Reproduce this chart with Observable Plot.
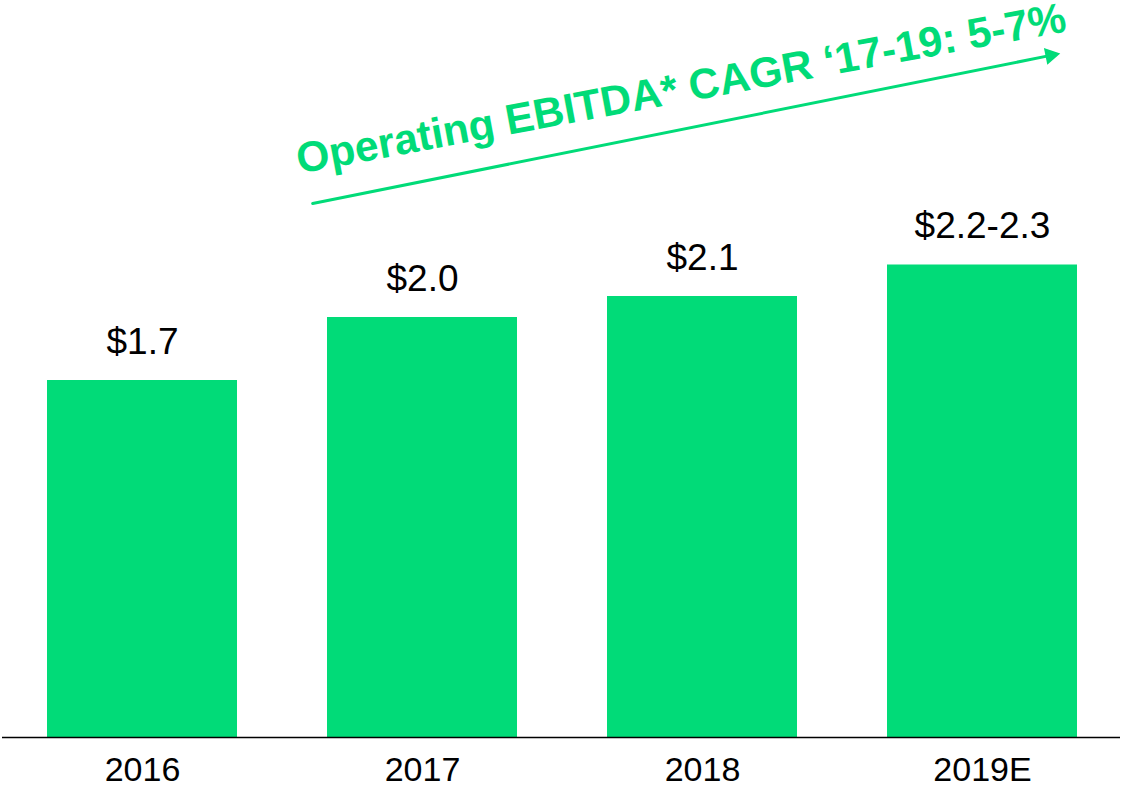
<!DOCTYPE html>
<html>
<head>
<meta charset="utf-8">
<script src="https://cdn.jsdelivr.net/npm/d3@7"></script>
<script src="https://cdn.jsdelivr.net/npm/@observablehq/plot@0.6"></script>
<style>
  html, body { margin: 0; padding: 0; background: #ffffff; }
  #chart svg { display: block; }
</style>
</head>
<body>
<div id="chart"></div>
<script>
// ---- data ----
const years = ["2016", "2017", "2018", "2019E"];
const values = [1.7, 2.0, 2.1, 2.25];
const valueLabels = ["$1.7", "$2.0", "$2.1", "$2.2-2.3"];

// growth annotation (text + arrow), anchored in data terms
const cagrText = "Operating EBITDA* CAGR \u201817-19: 5-7%";
const cagrTextAt = {x: "2018", y: 3.025};
const arrowFrom = {x: "2017", y: 2.648};
const arrowTo = {x: "2019E", y: 3.183};
const arrowHeadAt = {x: "2019E", y: 3.248};

const green = "#01DB78";

const rows = years.map((year, i) => ({year, value: values[i], label: valueLabels[i]}));

const chart = Plot.plot({
  width: 1122,
  height: 788,
  marginTop: 2,
  marginBottom: 51,
  marginLeft: 2,
  marginRight: 0,
  style: {fontFamily: "'Liberation Sans', Arial, sans-serif", background: "#ffffff", color: "#000", overflow: "visible"},
  x: {domain: years, paddingInner: 0.3214, paddingOuter: 0.1607, axis: null},
  y: {domain: [0, 3.5], axis: null},
  marks: [
    Plot.barY(rows, {x: "year", y: "value", fill: green}),
    Plot.ruleY([0], {stroke: "#000", strokeWidth: 1.6, insetRight: 2}),
    Plot.axisX({tickSize: 0, tickPadding: 19, fontSize: 34, label: null, fill: "#000"}),
    Plot.text(rows, {x: "year", y: "value", text: "label", lineAnchor: "bottom", dy: -27, fontSize: 37, fill: "#000"}),
    Plot.text([cagrTextAt], {
      x: "x", y: "y", text: () => cagrText, dx: -19,
      rotate: -10.5, textAnchor: "middle", lineAnchor: "bottom",
      fontSize: 42.5, fontWeight: "bold", fill: green
    }),
    Plot.arrow([{a: arrowFrom, b: arrowTo}], {
      x1: d => d.a.x, y1: d => d.a.y, x2: d => d.b.x, y2: d => d.b.y,
      insetStart: -112, insetEnd: -67, headLength: 0,
      stroke: green, strokeWidth: 3
    }),
    Plot.dot([arrowHeadAt], {
      x: "x", y: "y", dx: 68, symbol: "triangle", r: 6.4,
      rotate: 78.7, fill: green, stroke: "none"
    })
  ]
});

document.getElementById("chart").appendChild(chart);
</script>
</body>
</html>
